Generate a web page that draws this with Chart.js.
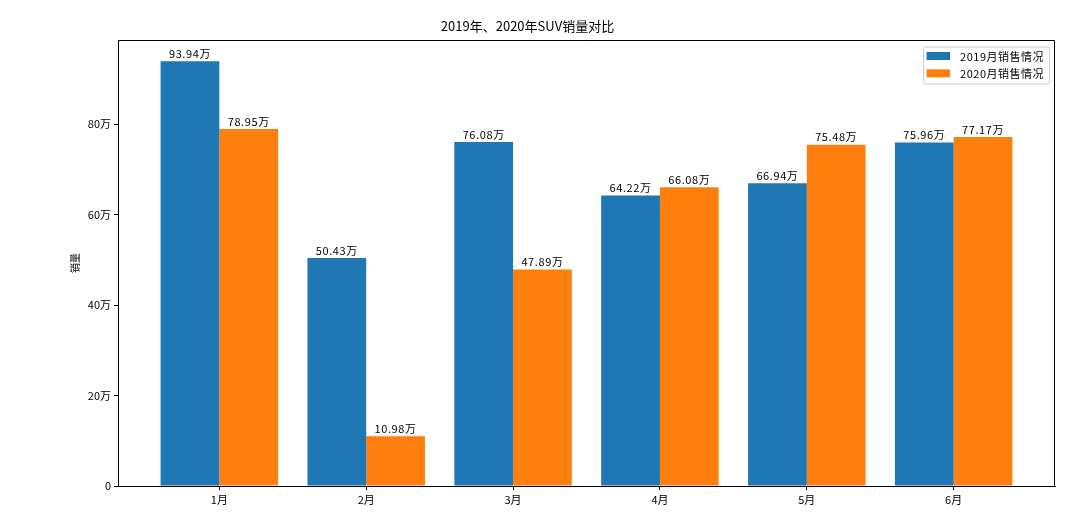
<!DOCTYPE html>
<html>
<head>
<meta charset="utf-8">
<script src="https://cdn.jsdelivr.net/npm/chart.js@4.4.1/dist/chart.umd.min.js"></script>
<style>
  body { margin: 0; background: #fff; }
  canvas { display: block; }
</style>
</head>
<body>
<canvas id="bar_chart" width="1080" height="526"></canvas>
<script>
var months = ["1月", "2月", "3月", "4月", "5月", "6月"];
var sales2019 = [93.94, 50.43, 76.08, 64.22, 66.94, 75.96];
var sales2020 = [78.95, 10.98, 47.89, 66.08, 75.48, 77.17];
var yTicks = [0, 20, 40, 60, 80];

var FONT = '"Noto Sans CJK SC", "DejaVu Sans", sans-serif';
Chart.defaults.color = '#000';
Chart.defaults.font.family = FONT;

function toPoints(values) {
    return values.map(function (v, i) { return { x: i, y: v }; });
}

// spines on top and right
var framePlugin = {
    id: 'frame',
    afterDraw: function (chart) {
        var a = chart.chartArea, ctx = chart.ctx;
        ctx.save();
        ctx.strokeStyle = '#000';
        ctx.lineWidth = 1;
        ctx.beginPath();
        ctx.moveTo(a.left, a.top + 0.5);
        ctx.lineTo(a.right - 0.5, a.top + 0.5);
        ctx.lineTo(a.right - 0.5, a.bottom);
        ctx.stroke();
        ctx.restore();
    }
};

// value text above every bar
var valueLabels = {
    id: 'valueLabels',
    afterDatasetsDraw: function (chart) {
        var ctx = chart.ctx;
        ctx.save();
        ctx.font = '11px ' + FONT;
        if ('letterSpacing' in ctx) ctx.letterSpacing = '0.6px';
        ctx.fillStyle = '#000';
        ctx.textAlign = 'center';
        ctx.textBaseline = 'bottom';
        chart.data.datasets.forEach(function (ds, d) {
            chart.getDatasetMeta(d).data.forEach(function (bar, i) {
                ctx.fillText(ds.data[i].y.toFixed(2) + '万', bar.x, bar.y - 2);
            });
        });
        ctx.restore();
    }
};

// legend box inside the plot, upper right
var boxLegend = {
    id: 'boxLegend',
    afterDraw: function (chart) {
        var a = chart.chartArea, ctx = chart.ctx;
        ctx.save();
        ctx.font = '11px ' + FONT;
        if ('letterSpacing' in ctx) ctx.letterSpacing = '0.5px';
        var textW = 0;
        chart.data.datasets.forEach(function (ds) {
            textW = Math.max(textW, ctx.measureText(ds.label).width);
        });
        var w = 37 + textW + 5, h = 37;
        var x = a.right - 6 - w, y = a.top + 6.5;
        ctx.fillStyle = 'rgba(255,255,255,0.8)';
        ctx.strokeStyle = '#cccccc';
        ctx.lineWidth = 1;
        ctx.beginPath();
        ctx.roundRect(x + 0.5, y + 0.5, w, h, 2);
        ctx.fill();
        ctx.stroke();
        ctx.textBaseline = 'middle';
        chart.data.datasets.forEach(function (ds, i) {
            var cy = y + 9.5 + i * 17.3;
            ctx.fillStyle = ds.backgroundColor;
            ctx.fillRect(x + 3.5, cy - 4, 23.5, 8);
            ctx.fillStyle = '#000';
            ctx.fillText(ds.label, x + 37, cy + 0.5);
        });
        ctx.restore();
    }
};

new Chart(document.getElementById("bar_chart").getContext("2d"), {
    type: 'bar',
    data: {
        datasets: [{
            label: "2019月销售情况",
            data: toPoints(sales2019),
            backgroundColor: '#1f77b4',
            borderWidth: 0,
            categoryPercentage: 0.8,
            barPercentage: 1.0
        }, {
            label: "2020月销售情况",
            data: toPoints(sales2020),
            backgroundColor: '#ff7f0e',
            borderWidth: 0,
            categoryPercentage: 0.8,
            barPercentage: 1.0
        }]
    },
    options: {
        responsive: false,
        animation: false,
        layout: { padding: { left: 0, right: 25, top: 0, bottom: 0 } },
        plugins: {
            legend: { display: false },
            tooltip: { enabled: false },
            title: {
                display: true,
                text: '2019年、2020年SUV销量对比',
                color: '#000',
                font: { size: 13, weight: 'normal', lineHeight: 1.2 },
                padding: { top: 18, bottom: 6.4 }
            }
        },
        scales: {
            x: {
                type: 'linear',
                offset: false,
                min: -0.69,
                max: 5.69,
                afterBuildTicks: function (scale) {
                    scale.ticks = months.map(function (m, i) { return { value: i }; });
                },
                afterFit: function (scale) { scale.height = 40; },
                ticks: {
                    font: { size: 11 },
                    padding: 3,
                    maxRotation: 0,
                    autoSkip: false,
                    callback: function (v) { return months[v]; }
                },
                grid: { offset: false, drawOnChartArea: false, drawTicks: true, tickLength: 4, color: '#000' },
                border: { display: true, color: '#000', width: 1 }
            },
            y: {
                min: 0,
                max: 93.94 * 1.05,
                afterBuildTicks: function (scale) {
                    scale.ticks = yTicks.map(function (v) { return { value: v }; });
                },
                afterFit: function (scale) { scale.width = 118; },
                ticks: {
                    font: { size: 11 },
                    padding: 3,
                    callback: function (v) { return v === 0 ? '0' : v + '万'; }
                },
                title: {
                    display: true,
                    text: '销量',
                    font: { size: 10, lineHeight: 1.2 },
                    padding: { top: 69, bottom: 0 }
                },
                grid: { drawOnChartArea: false, drawTicks: true, tickLength: 4, color: '#000' },
                border: { display: true, color: '#000', width: 1 }
            }
        }
    },
    plugins: [framePlugin, valueLabels, boxLegend]
});
</script>
</body>
</html>
